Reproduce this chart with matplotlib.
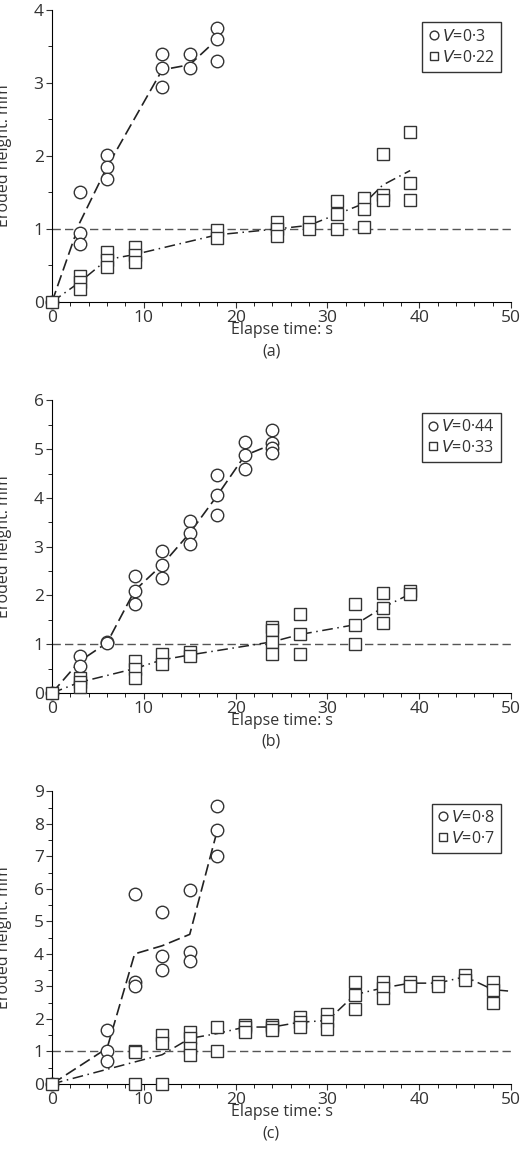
import numpy as np
import matplotlib
matplotlib.use('Agg')
import matplotlib.pyplot as plt
from matplotlib.ticker import MultipleLocator

plt.rcParams['font.family'] = ['Open Sans', 'DejaVu Sans']
TXT = '#333333'

# ── (a) ──
a_cx = [0, 3, 3, 3, 6, 6, 6, 12, 12, 12, 15, 15, 18, 18, 18]
a_cy = [0, 1.5, 0.95, 0.8, 2.02, 1.85, 1.68, 3.4, 3.2, 2.95, 3.4, 3.2, 3.75, 3.6, 3.3]
a_clx = [0, 3, 6, 12, 15, 18]
a_cly = [0, 1.08, 1.85, 3.18, 3.25, 3.6]
a_sx = [0, 3, 3, 3, 6, 6, 6, 9, 9, 9, 18, 18, 24.5, 24.5, 24.5, 28, 28, 31, 31, 31,
        34, 34, 34, 36, 36, 36, 39, 39, 39]
a_sy = [0, 0.35, 0.28, 0.18, 0.68, 0.58, 0.48, 0.75, 0.65, 0.55, 0.98, 0.88, 1.1, 1.0, 0.9,
        1.1, 1.0, 1.38, 1.2, 1.0, 1.43, 1.28, 1.02, 2.03, 1.47, 1.4, 2.33, 1.63, 1.4]
a_slx = [0, 3, 6, 9, 18, 24.5, 28, 31, 34, 36, 39]
a_sly = [0, 0.27, 0.58, 0.65, 0.92, 1.0, 1.05, 1.2, 1.35, 1.6, 1.8]

# ── (b) ──
b_cx = [0, 3, 3, 6, 6, 9, 9, 9, 12, 12, 12, 15, 15, 15, 18, 18, 18, 21, 21, 21, 24, 24, 24, 24]
b_cy = [0, 0.75, 0.55, 1.05, 1.02, 2.4, 2.1, 1.82, 2.92, 2.63, 2.35, 3.52, 3.28, 3.05,
        4.47, 4.05, 3.65, 5.15, 4.87, 4.6, 5.4, 5.12, 5.03, 4.93]
b_clx = [0, 3, 6, 9, 12, 15, 18, 21, 24]
b_cly = [0, 0.65, 1.03, 2.1, 2.63, 3.28, 4.05, 4.87, 5.1]
b_sx = [0, 3, 3, 3, 9, 9, 9, 12, 12, 15, 15, 24, 24, 24, 24, 27, 27, 27, 33, 33, 33,
        36, 36, 36, 39, 39]
b_sy = [0, 0.3, 0.22, 0.12, 0.65, 0.5, 0.3, 0.8, 0.6, 0.85, 0.75, 1.35, 1.3, 1.05, 0.8,
        1.63, 1.2, 0.8, 1.83, 1.4, 1.0, 2.05, 1.75, 1.43, 2.1, 2.03]
b_slx = [0, 3, 9, 12, 15, 24, 27, 33, 36, 39]
b_sly = [0, 0.22, 0.5, 0.68, 0.78, 1.05, 1.2, 1.4, 1.75, 2.03]

# ── (c) ──
c_cx = [0, 6, 6, 6, 9, 9, 9, 12, 12, 12, 15, 15, 15, 18, 18, 18]
c_cy = [0, 1.65, 1.0, 0.7, 5.85, 3.15, 3.0, 5.28, 3.95, 3.5, 5.95, 4.07, 3.77, 8.55, 7.8, 7.0]
c_clx = [0, 6, 9, 12, 15, 18]
c_cly = [0, 1.1, 4.0, 4.25, 4.6, 7.8]
c_sx = [0, 9, 9, 9, 12, 12, 12, 15, 15, 15, 15, 18, 18, 21, 21, 21, 24, 24, 24, 27, 27, 27,
        30, 30, 30, 33, 33, 33, 36, 36, 36, 39, 39, 42, 42, 45, 45, 48, 48, 48]
c_sy = [0, 1.02, 0.98, 0, 1.5, 1.25, 0, 1.6, 1.4, 1.1, 0.9, 1.75, 1.0, 1.8, 1.75, 1.6,
        1.8, 1.75, 1.65, 2.05, 1.9, 1.75, 2.15, 1.95, 1.7, 3.15, 2.75, 2.3, 3.15, 2.95, 2.65,
        3.15, 3.0, 3.15, 3.0, 3.35, 3.2, 3.15, 2.9, 2.5]
c_slx = [0, 12, 15, 18, 21, 24, 27, 30, 33, 36, 39, 42, 45, 48, 50]
c_sly = [0, 0.9, 1.4, 1.55, 1.75, 1.75, 1.9, 1.95, 2.75, 2.95, 3.1, 3.1, 3.3, 2.9, 2.85]

panels = [
    ((0.1, 0.7428, 0.883, 0.2487), a_cx, a_cy, a_clx, a_cly, a_sx, a_sy, a_slx, a_sly,
     4, ['$V$=0·3', '$V$=0·22'], '(a)', 351),
    ((0.1, 0.4097, 0.883, 0.2493), b_cx, b_cy, b_clx, b_cly, b_sx, b_sy, b_slx, b_sly,
     6, ['$V$=0·44', '$V$=0·33'], '(b)', 742),
    ((0.1, 0.0767, 0.883, 0.2493), c_cx, c_cy, c_clx, c_cly, c_sx, c_sy, c_slx, c_sly,
     9, ['$V$=0·8', '$V$=0·7'], '(c)', 1133),
]

fig = plt.figure(figsize=(5.2, 11.74), dpi=100)
for rect, cx, cy, clx, cly, sx, sy, slx, sly, ymax, labels, cap, capy in panels:
    ax = fig.add_axes(rect)
    ax.axhline(1, color='#555555', ls=(0, (6, 3)), lw=1.0, zorder=1)
    ax.plot(clx, cly, color='#222222', ls=(0, (7, 3)), lw=1.2, zorder=2)
    ax.plot(slx, sly, color='#222222', ls=(0, (7, 3, 1, 3)), lw=1.1, zorder=2)
    h1, = ax.plot(cx, cy, 'o', ms=9, mfc='white', mec='#333333', mew=1.0, ls='none',
                  zorder=3, clip_on=False)
    h2, = ax.plot(sx, sy, 's', ms=9, mfc='white', mec='#333333', mew=1.0, ls='none',
                  zorder=3, clip_on=False)
    ax.set_xlim(0, 50)
    ax.set_ylim(0, ymax)
    ax.xaxis.set_major_locator(MultipleLocator(10))
    ax.xaxis.set_minor_locator(MultipleLocator(2))
    ax.yaxis.set_major_locator(MultipleLocator(1))
    ax.yaxis.set_minor_locator(MultipleLocator(0.5))
    ax.spines['top'].set_visible(False)
    ax.spines['right'].set_visible(False)
    ax.tick_params(labelsize=12.5, colors=TXT, length=4, pad=2)
    ax.tick_params(which='minor', length=3)
    ax.set_xlabel('Elapse time: s', fontsize=11.5, color=TXT)
    ax.set_ylabel('Eroded height: mm', fontsize=11.5, color=TXT)
    h_px = rect[3] * 1174
    ax.xaxis.set_label_coords(0.5, -20 / h_px)
    ax.yaxis.set_label_coords(-40 / (rect[2] * 520), 0.5)
    leg = ax.legend([h1, h2], labels, loc='upper right', fontsize=11.5, markerscale=0.7,
                    handlelength=0.6, handletextpad=0.2, borderpad=0.4, fancybox=False,
                    edgecolor='#333333', framealpha=1, labelspacing=0.3,
                    bbox_to_anchor=(0.995, 0.985))
    for t in leg.get_texts():
        t.set_color(TXT)
    fig.text(rect[0] + rect[2] / 2 - 0.02, 1 - capy / 1174, cap, ha='center', va='center',
             fontsize=11.5, color=TXT)

fig.savefig('out.png', dpi=100)
